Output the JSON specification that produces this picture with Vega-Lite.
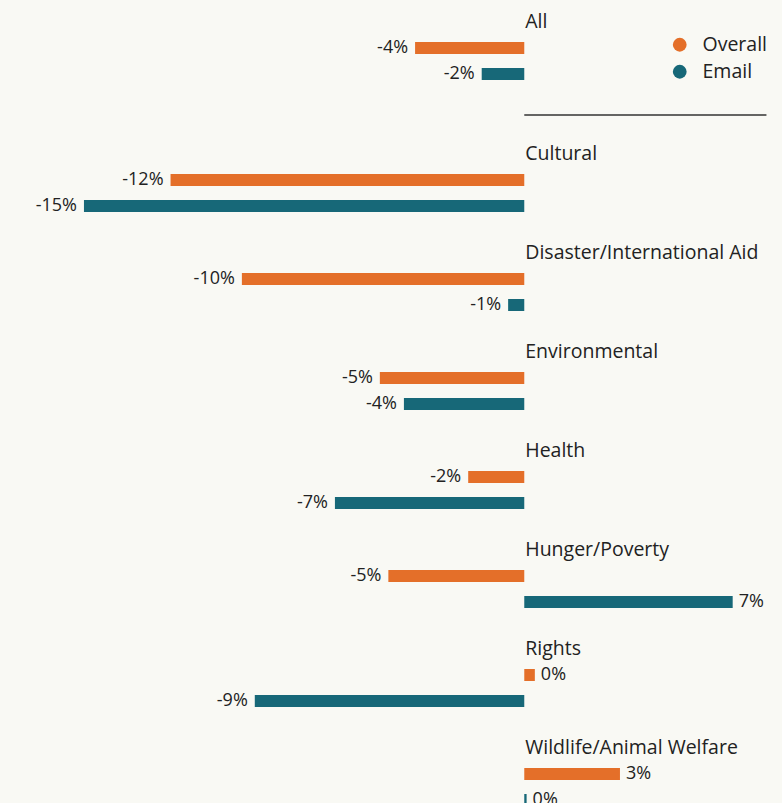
{
  "$schema": "https://vega.github.io/schema/vega-lite/v6.json",
  "autosize": {"type": "none"},
  "width": 782,
  "height": 726,
  "padding": {"left": 0, "right": 0, "top": 22, "bottom": 55},
  "background": "#f9f9f4",
  "config": {"view": {"stroke": null}, "font": "Open Sans", "text": {"font": "Open Sans"}},
  "layer": [
    {
      "data": {
        "values": [
          {"group": "All", "series": "title", "value": 0, "label": "All"},
          {"group": "All", "series": "Overall", "value": -3.72, "label": "-4%"},
          {"group": "All", "series": "Email", "value": -1.45, "label": "-2%"},
          {"group": "Cultural", "series": "title", "value": 0, "label": "Cultural"},
          {"group": "Cultural", "series": "Overall", "value": -12.05, "label": "-12%"},
          {"group": "Cultural", "series": "Email", "value": -15.0, "label": "-15%"},
          {"group": "Disaster/International Aid", "series": "title", "value": 0, "label": "Disaster/International Aid"},
          {"group": "Disaster/International Aid", "series": "Overall", "value": -9.62, "label": "-10%"},
          {"group": "Disaster/International Aid", "series": "Email", "value": -0.55, "label": "-1%"},
          {"group": "Environmental", "series": "title", "value": 0, "label": "Environmental"},
          {"group": "Environmental", "series": "Overall", "value": -4.92, "label": "-5%"},
          {"group": "Environmental", "series": "Email", "value": -4.1, "label": "-4%"},
          {"group": "Health", "series": "title", "value": 0, "label": "Health"},
          {"group": "Health", "series": "Overall", "value": -1.91, "label": "-2%"},
          {"group": "Health", "series": "Email", "value": -6.45, "label": "-7%"},
          {"group": "Hunger/Poverty", "series": "title", "value": 0, "label": "Hunger/Poverty"},
          {"group": "Hunger/Poverty", "series": "Overall", "value": -4.63, "label": "-5%"},
          {"group": "Hunger/Poverty", "series": "Email", "value": 7.1, "label": "7%"},
          {"group": "Rights", "series": "title", "value": 0, "label": "Rights"},
          {"group": "Rights", "series": "Overall", "value": 0.36, "label": "0%"},
          {"group": "Rights", "series": "Email", "value": -9.18, "label": "-9%"},
          {"group": "Wildlife/Animal Welfare", "series": "title", "value": 0, "label": "Wildlife/Animal Welfare"},
          {"group": "Wildlife/Animal Welfare", "series": "Overall", "value": 3.26, "label": "3%"},
          {"group": "Wildlife/Animal Welfare", "series": "Email", "value": 0.08, "label": "0%"}
        ]
      },
      "encoding": {
        "y": {
          "field": "group",
          "type": "nominal",
          "axis": null,
          "scale": {
            "type": "point",
            "padding": 0,
            "domain": ["All", "s1", "s2", "s3", "Cultural", "s4", "s5", "Disaster/International Aid", "s6", "s7", "Environmental", "s8", "s9", "Health", "s10", "s11", "Hunger/Poverty", "s12", "s13", "Rights", "s14", "s15", "Wildlife/Animal Welfare"]
          }
        },
        "yOffset": {
          "field": "series",
          "type": "nominal",
          "scale": {"type": "point", "domain": ["title", "Overall", "Email"], "range": [0, 52], "padding": 0}
        }
      },
      "layer": [
        {
          "transform": [{"filter": "datum.series !== 'title'"}],
          "mark": {"type": "bar", "size": 12},
          "encoding": {
            "x": {"field": "value", "type": "quantitative", "axis": null, "scale": {"domain": [-17.86, 8.78], "nice": false, "zero": false}},
            "x2": {"datum": 0},
            "color": {
              "field": "series",
              "type": "nominal",
              "scale": {"domain": ["Overall", "Email"], "range": ["#e46f29", "#176878"]},
              "legend": {
                "title": null,
                "orient": "none",
                "legendX": 670,
                "legendY": 13,
                "symbolType": "circle",
                "symbolSize": 190,
                "symbolOpacity": 1,
                "labelFontSize": 19.5,
                "labelFont": "Open Sans",
                "labelColor": "#222222",
                "labelOffset": 13,
                "rowPadding": 6
              }
            }
          }
        },
        {
          "transform": [{"filter": "datum.series !== 'title' && datum.value < 0"}],
          "mark": {"type": "text", "align": "right", "baseline": "middle", "dx": -7, "fontSize": 18, "color": "#222222"},
          "encoding": {
            "x": {"field": "value", "type": "quantitative"},
            "text": {"field": "label"}
          }
        },
        {
          "transform": [{"filter": "datum.series !== 'title' && datum.value >= 0"}],
          "mark": {"type": "text", "align": "left", "baseline": "middle", "dx": 6, "fontSize": 18, "color": "#222222"},
          "encoding": {
            "x": {"field": "value", "type": "quantitative"},
            "text": {"field": "label"}
          }
        },
        {
          "transform": [{"filter": "datum.series === 'title'"}],
          "mark": {"type": "text", "align": "left", "baseline": "middle", "dx": 1, "fontSize": 19.5, "color": "#222222"},
          "encoding": {
            "x": {"datum": 0, "type": "quantitative"},
            "text": {"field": "label"}
          }
        }
      ]
    },
    {
      "data": {"values": [{"group": "s3"}]},
      "mark": {"type": "rule", "stroke": "#333333", "strokeWidth": 1.5},
      "encoding": {
        "y": {"field": "group", "type": "nominal"},
        "yOffset": {"value": -6},
        "x": {"datum": 0, "type": "quantitative"},
        "x2": {"datum": 8.25}
      }
    }
  ]
}
